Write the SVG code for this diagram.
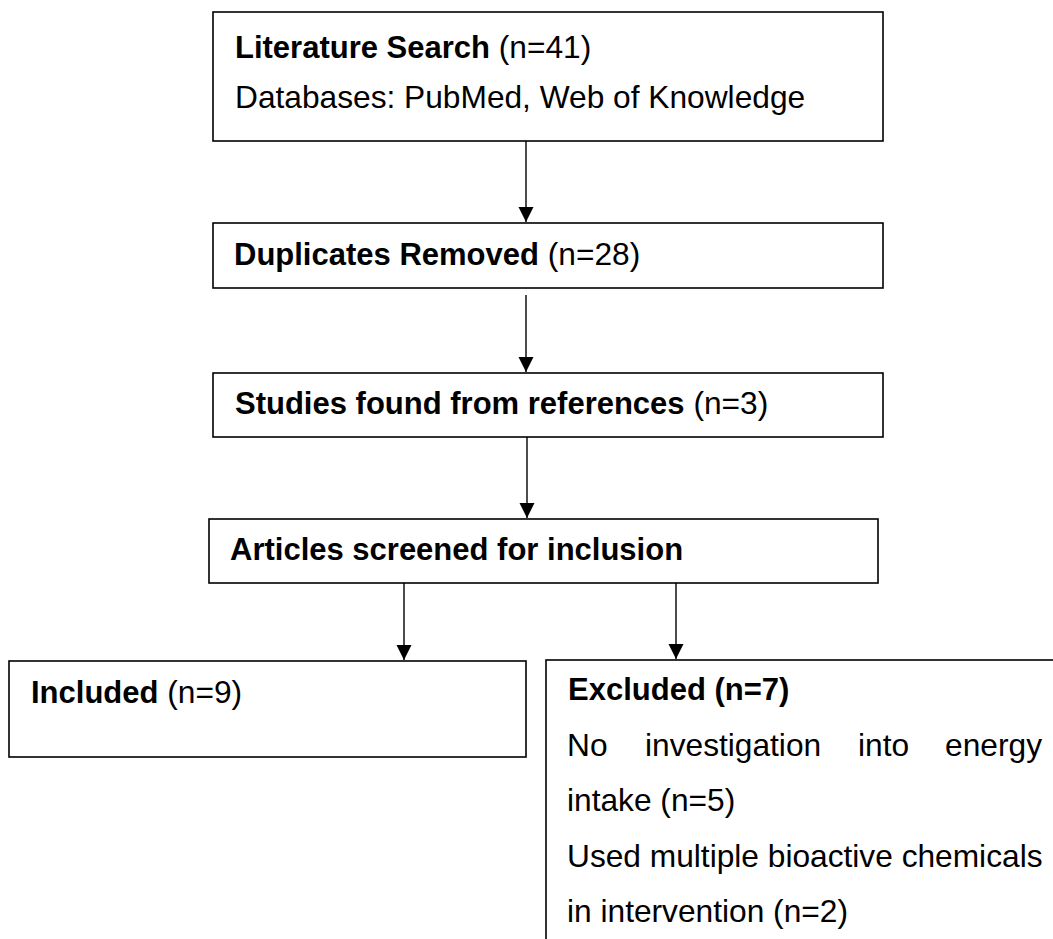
<svg xmlns="http://www.w3.org/2000/svg" width="1053" height="939" viewBox="0 0 1053 939">
  <style>
    .box { fill: #ffffff; stroke: #000000; stroke-width: 1.6; }
    .txt { font-family: "Liberation Sans", Arial, sans-serif; font-size: 31.7px; fill: #000000; }
    .b { font-weight: bold; font-size: 31px; }
    .conn { stroke: #000000; stroke-width: 1.4; fill: none; marker-end: url(#arrow); }
  </style>
  <defs>
    <marker id="arrow" markerUnits="userSpaceOnUse" markerWidth="16" markerHeight="16" viewBox="0 0 16 16" refX="15" refY="8" orient="auto">
      <path d="M0,0.5 L15,8 L0,15.5 Z" fill="#000000"/>
    </marker>
  </defs>
  <rect width="1053" height="939" fill="#ffffff"/>

  <g id="literature-search">
    <rect class="box" x="213" y="12" width="670" height="129"/>
    <text class="txt" x="235" y="58"><tspan class="b">Literature Search</tspan> (n=41)</text>
    <text class="txt" x="235" y="108">Databases: PubMed, Web of Knowledge</text>
  </g>

  <g id="duplicates-removed">
    <rect class="box" x="213" y="223" width="670" height="65"/>
    <text class="txt" x="234" y="265"><tspan class="b">Duplicates Removed</tspan> (n=28)</text>
  </g>

  <g id="studies-references">
    <rect class="box" x="213" y="373" width="670" height="64"/>
    <text class="txt" x="235" y="414"><tspan class="b">Studies found from references</tspan> (n=3)</text>
  </g>

  <g id="articles-screened">
    <rect class="box" x="209" y="519" width="669" height="64"/>
    <text class="txt b" x="230" y="560">Articles screened for inclusion</text>
  </g>

  <g id="included">
    <rect class="box" x="9" y="661" width="517" height="96"/>
    <text class="txt" x="31" y="703"><tspan class="b">Included</tspan> (n=9)</text>
  </g>

  <g id="excluded">
    <rect class="box" x="546" y="660" width="540" height="300"/>
    <text class="txt b" x="568" y="700">Excluded (n=7)</text>
    <text class="txt" y="756"><tspan x="567">No</tspan><tspan x="645">investigation</tspan><tspan x="858">into</tspan><tspan x="1042" text-anchor="end">energy</tspan></text>
    <text class="txt" x="567" y="811">intake (n=5)</text>
    <text class="txt" x="567" y="867">Used multiple bioactive chemicals</text>
    <text class="txt" x="567" y="922">in intervention (n=2)</text>
  </g>

  <g id="connectors">
    <line class="conn" x1="526" y1="141" x2="526" y2="222"/>
    <line class="conn" x1="526" y1="295" x2="526" y2="372"/>
    <line class="conn" x1="527" y1="437" x2="527" y2="518"/>
    <line class="conn" x1="404" y1="583" x2="404" y2="660"/>
    <line class="conn" x1="676" y1="583" x2="676" y2="659"/>
  </g>
</svg>
